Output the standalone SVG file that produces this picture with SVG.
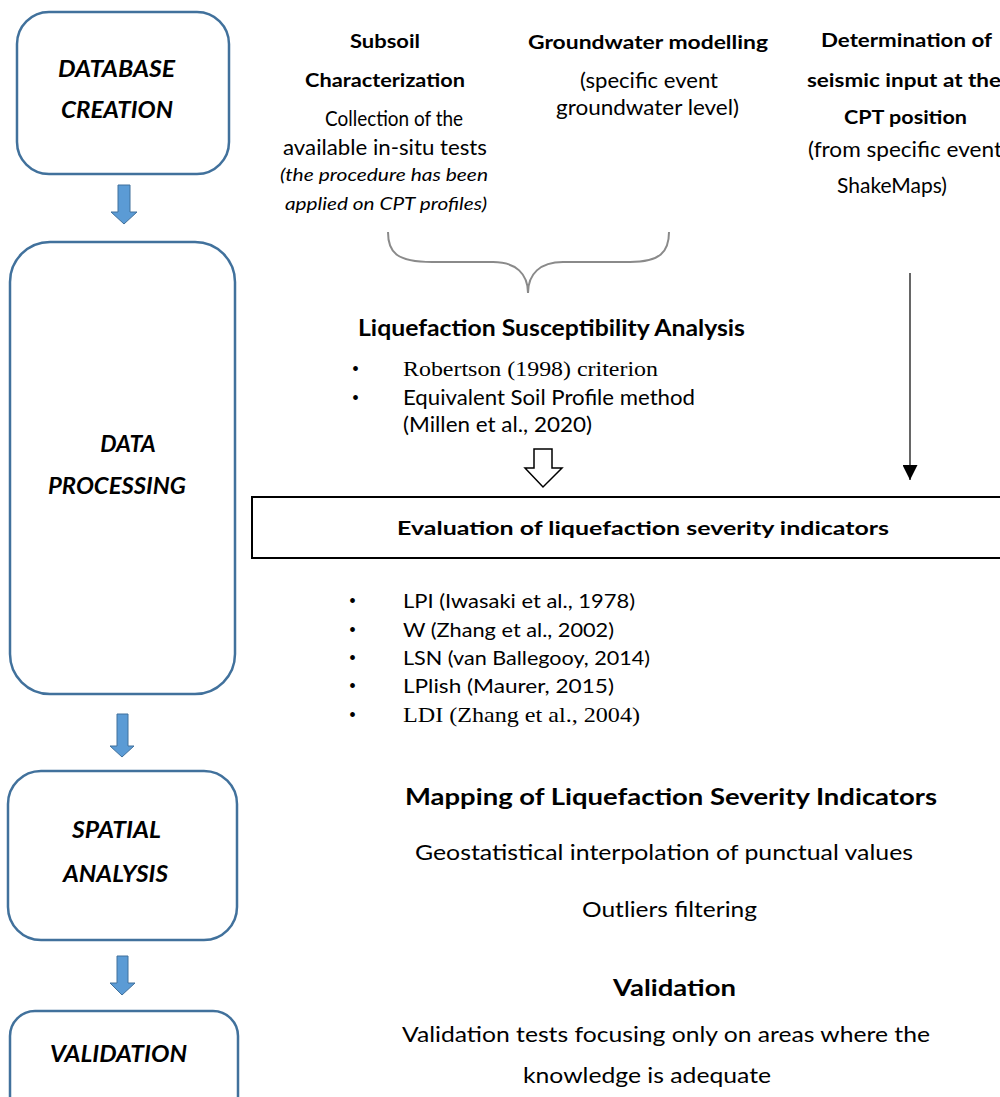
<svg xmlns="http://www.w3.org/2000/svg" width="1000" height="1097" viewBox="0 0 1000 1097">
  <style>
    text { font-family: Lato, "Open Sans", "Liberation Sans", sans-serif; fill: #000; }
    .stage { fill: #fff; stroke: #41719C; stroke-width: 2.5; }
    .stage-label { font-size: 23px; font-weight: bold; font-style: italic; }
    .hd { font-size: 19.5px; font-weight: bold; }
    .tx { font-size: 21px; }
    .it { font-size: 16.5px; font-style: italic; }
    .sm { font-size: 20px; }
    .serif { font-family: "Liberation Serif", "Times New Roman", serif; font-size: 21px; }
    .big { font-size: 23px; font-weight: bold; }
    .bul { font-family: "Liberation Serif", serif; font-size: 20px; }
    .flow { fill: #5B9BD5; stroke: #41719C; stroke-width: 1; }
  </style>
  <defs>
    <marker id="tri" viewBox="0 0 10 10" refX="10" refY="5" markerWidth="15" markerHeight="15" markerUnits="userSpaceOnUse" orient="auto">
      <path d="M0,0 L10,5 L0,10 Z" fill="#000"/>
    </marker>
  </defs>
  <rect width="1000" height="1097" fill="#fff"/>

  <!-- stage boxes on the left -->
  <g id="stage-database">
    <rect class="stage" x="17" y="12" width="212" height="162" rx="32" ry="32"/>
    <text class="stage-label" x="58" y="77" textLength="117" lengthAdjust="spacingAndGlyphs">DATABASE</text>
    <text class="stage-label" x="61" y="118" textLength="112" lengthAdjust="spacingAndGlyphs">CREATION</text>
  </g>
  <g id="stage-processing">
    <rect class="stage" x="10" y="242" width="225" height="452" rx="40" ry="40"/>
    <text class="stage-label" x="128" y="452" text-anchor="middle">DATA</text>
    <text class="stage-label" x="48" y="494" textLength="138" lengthAdjust="spacingAndGlyphs">PROCESSING</text>
  </g>
  <g id="stage-spatial">
    <rect class="stage" x="8" y="771" width="229" height="169" rx="33" ry="33"/>
    <text class="stage-label" x="72" y="838" textLength="89" lengthAdjust="spacingAndGlyphs">SPATIAL</text>
    <text class="stage-label" x="63" y="882" textLength="105" lengthAdjust="spacingAndGlyphs">ANALYSIS</text>
  </g>
  <g id="stage-validation">
    <rect class="stage" x="10" y="1011" width="228" height="120" rx="25" ry="25"/>
    <text class="stage-label" x="50" y="1062" textLength="137" lengthAdjust="spacingAndGlyphs">VALIDATION</text>
  </g>

  <!-- input columns -->
  <g id="subsoil">
    <text class="hd" x="350" y="48" textLength="70" lengthAdjust="spacingAndGlyphs">Subsoil</text>
    <text class="hd" x="305" y="87" textLength="160" lengthAdjust="spacingAndGlyphs">Characterization</text>
    <text class="tx" x="325" y="126" textLength="138" lengthAdjust="spacingAndGlyphs">Collection of the</text>
    <text class="tx" x="283" y="155" textLength="204" lengthAdjust="spacingAndGlyphs">available in-situ tests</text>
    <text class="it" x="280" y="181" textLength="208" lengthAdjust="spacingAndGlyphs">(the procedure has been</text>
    <text class="it" x="285" y="210" textLength="202" lengthAdjust="spacingAndGlyphs">applied on CPT profiles)</text>
  </g>
  <g id="groundwater">
    <text class="hd" x="528" y="49" textLength="240" lengthAdjust="spacingAndGlyphs">Groundwater modelling</text>
    <text class="tx" x="580" y="88" textLength="138" lengthAdjust="spacingAndGlyphs">(specific event</text>
    <text class="tx" x="556" y="115" textLength="183" lengthAdjust="spacingAndGlyphs">groundwater level)</text>
  </g>
  <g id="seismic-input">
    <text class="hd" x="821" y="47" textLength="171" lengthAdjust="spacingAndGlyphs">Determination of</text>
    <text class="hd" x="807" y="87" textLength="194" lengthAdjust="spacingAndGlyphs">seismic input at the</text>
    <text class="hd" x="844" y="124" textLength="123" lengthAdjust="spacingAndGlyphs">CPT position</text>
    <text class="tx" x="808" y="157" textLength="194" lengthAdjust="spacingAndGlyphs">(from specific event</text>
    <text class="tx" x="892" y="193" text-anchor="middle">ShakeMaps)</text>
  </g>

  <!-- susceptibility analysis -->
  <g id="susceptibility">
    <text class="big" x="358" y="336" textLength="387" lengthAdjust="spacingAndGlyphs">Liquefaction Susceptibility Analysis</text>
    <text class="bul" x="352" y="376">•</text>
    <text class="serif" x="403" y="376" textLength="255" lengthAdjust="spacingAndGlyphs">Robertson (1998) criterion</text>
    <text class="bul" x="352" y="405">•</text>
    <text class="tx" x="403" y="405" textLength="292" lengthAdjust="spacingAndGlyphs">Equivalent Soil Profile method</text>
    <text class="tx" x="403" y="432" textLength="189" lengthAdjust="spacingAndGlyphs">(Millen et al., 2020)</text>
  </g>

  <!-- severity indicators -->
  <g id="severity">
    <rect x="252" y="497" width="760" height="61" fill="#fff" stroke="#000" stroke-width="2"/>
    <text class="hd" font-size="21.5" x="397" y="535" textLength="492" lengthAdjust="spacingAndGlyphs">Evaluation of liquefaction severity indicators</text>
  </g>
  <g id="indicator-list">
    <text class="bul" x="349" y="608">•</text>
    <text class="sm" x="403" y="608" textLength="232" lengthAdjust="spacingAndGlyphs">LPI (Iwasaki et al., 1978)</text>
    <text class="bul" x="349" y="637">•</text>
    <text class="sm" x="403" y="637" textLength="211" lengthAdjust="spacingAndGlyphs">W (Zhang et al., 2002)</text>
    <text class="bul" x="349" y="665">•</text>
    <text class="sm" x="403" y="665" textLength="247" lengthAdjust="spacingAndGlyphs">LSN (van Ballegooy, 2014)</text>
    <text class="bul" x="349" y="693">•</text>
    <text class="sm" x="403" y="693" textLength="211" lengthAdjust="spacingAndGlyphs">LPlish (Maurer, 2015)</text>
    <text class="bul" x="349" y="722">•</text>
    <text class="serif" x="403" y="722" textLength="237" lengthAdjust="spacingAndGlyphs">LDI (Zhang et al., 2004)</text>
  </g>

  <!-- mapping -->
  <g id="mapping">
    <text class="big" x="405" y="805" textLength="532" lengthAdjust="spacingAndGlyphs">Mapping of Liquefaction Severity Indicators</text>
    <text class="tx" x="415" y="860" textLength="498" lengthAdjust="spacingAndGlyphs">Geostatistical interpolation of punctual values</text>
    <text class="tx" x="582" y="917" textLength="175" lengthAdjust="spacingAndGlyphs">Outliers filtering</text>
  </g>

  <!-- validation -->
  <g id="validation">
    <text class="big" x="613" y="996" textLength="123" lengthAdjust="spacingAndGlyphs">Validation</text>
    <text class="tx" x="402" y="1042" textLength="528" lengthAdjust="spacingAndGlyphs">Validation tests focusing only on areas where the</text>
    <text class="tx" x="523" y="1083" textLength="248" lengthAdjust="spacingAndGlyphs">knowledge is adequate</text>
  </g>

  <!-- connectors -->
  <g id="connectors">
    <!-- block arrows between stages -->
    <path class="flow" d="M118,185 L130,185 L130,212 L137,212 L124,224 L111,212 L118,212 Z"/>
    <path class="flow" d="M117,714 L128,714 L128,746 L134,746 L122,757 L110,746 L117,746 Z"/>
    <path class="flow" d="M117,956 L128,956 L128,983 L135,983 L122,995 L110,983 L117,983 Z"/>
    <!-- brace gathering the inputs -->
    <path d="M388,232 C388,252 396,262 432,262 L493,262 C516,262 528,274 528,293 C528,274 540,262 563,262 L630,262 C660,262 669,252 669,232" fill="none" stroke="#8a8a8a" stroke-width="2"/>
    <!-- hollow arrow into the evaluation box -->
    <path d="M534,449 L552,449 L552,468 L562,468 L543,487 L525,468 L534,468 Z" fill="#fff" stroke="#000" stroke-width="1.5"/>
    <!-- seismic input into the evaluation box -->
    <line x1="910" y1="273" x2="910" y2="480" stroke="#000" stroke-width="1.2" marker-end="url(#tri)"/>
  </g>
</svg>
